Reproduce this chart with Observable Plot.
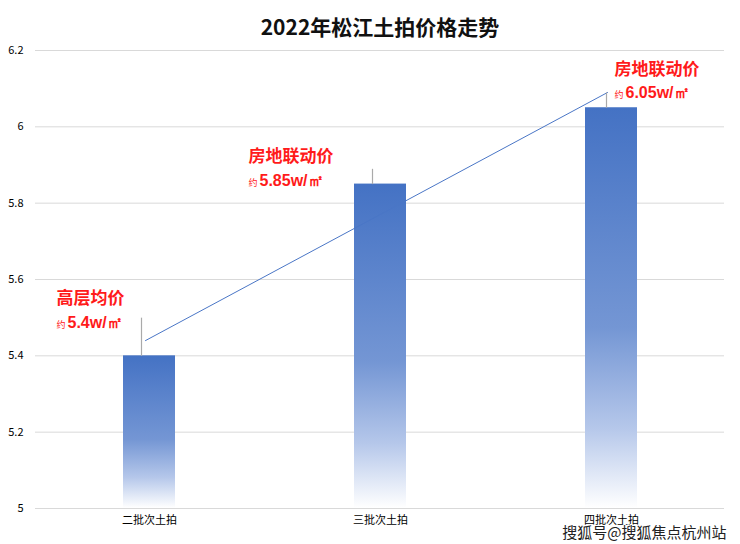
<!DOCTYPE html>
<html><head><meta charset="utf-8">
<script src="https://cdn.jsdelivr.net/npm/d3@7"></script>
<script src="https://cdn.jsdelivr.net/npm/@observablehq/plot@0.6"></script>
<style>body{margin:0;background:#fff;font-family:"Noto Sans CJK SC",sans-serif}</style>
</head><body><div id="chart"></div>
<script>
const categories = ["二批次土拍", "三批次土拍", "四批次土拍"];
const prices = [5.4, 5.85, 6.05];
const labelTitles = ["高层均价", "房地联动价", "房地联动价"];
const labelValues = ["5.4w/㎡", "5.85w/㎡", "6.05w/㎡"];
const trendStart = 5.44, trendEnd = 6.09;
const yTicks = [5, 5.2, 5.4, 5.6, 5.8, 6, 6.2];

const data = categories.map((c, i) => ({c, v: prices[i], t: labelTitles[i], lv: labelValues[i]}));
const pos = [{dx: -93, dy1: -57, dy2: -33}, {dx: -132, dy1: -28, dy2: -3}, {dx: 3, dy1: -38, dy2: -15}];
const red = "#ff1a1a";
const font = "Noto Sans CJK SC";

const marks = [
  Plot.ruleY(yTicks, {stroke: "#d9d9d9", strokeWidth: 1}),
  Plot.barY(data, {x: "c", y1: 5, y2: "v", fill: "url(#bargrad)"}),
  Plot.line([{c: categories[0], v: trendStart}, {c: categories[2], v: trendEnd}], {x: "c", y: "v", stroke: "#4a76c6", strokeWidth: 1, dx: -4}),
  Plot.text(["2022年松江土拍价格走势"], {frameAnchor: "top", dy: -30, fontSize: 21, fontWeight: "bold", fill: "#111", fontFamily: font})
];
data.forEach((d, i) => {
  const p = pos[i];
  marks.push(
    Plot.link([d], {x1: "c", x2: "c", y1: d => d.v + (i === 0 ? 0.1 : 0.04), y2: "v", stroke: "#aaa", strokeWidth: 1.2, dx: i === 2 ? -5 : -8}),
    Plot.text([d], {x: "c", y: "v", text: "t", dx: p.dx, dy: p.dy1, textAnchor: "start", fill: red, fontSize: 17, fontWeight: "bold", fontFamily: font}),
    Plot.text([d], {x: "c", y: "v", text: () => "约", dx: p.dx, dy: p.dy2 + 2, textAnchor: "start", fill: red, fontSize: 9, fontFamily: font}),
    Plot.text([d], {x: "c", y: "v", text: "lv", dx: p.dx + 11, dy: p.dy2, textAnchor: "start", fill: red, fontSize: 16, fontWeight: "bold", fontFamily: "Liberation Sans"})
  );
});
marks.push(Plot.text(["搜狐号@搜狐焦点杭州站"], {frameAnchor: "bottom-right", dy: 29, dx: 2, textAnchor: "end", fontSize: 15, fill: "#222", stroke: "white", strokeWidth: 2, fontFamily: font}));

const chart = Plot.plot({
  width: 740, height: 544,
  marginTop: 50, marginBottom: 36, marginLeft: 35, marginRight: 16,
  style: {fontFamily: font, background: "white"},
  x: {domain: categories, paddingInner: 0.776, paddingOuter: 0.375, label: null, tickSize: 0, tickPadding: 8},
  y: {domain: [5, 6.2], ticks: yTicks, tickFormat: d => String(+d.toFixed(1)), label: null, tickSize: 0, tickPadding: 12},
  marks
});
const ns = "http://www.w3.org/2000/svg";
const defs = document.createElementNS(ns, "defs");
defs.innerHTML = `<linearGradient id="bargrad" x1="0" y1="0" x2="0" y2="1">
<stop offset="0" stop-color="#4472c4"/><stop offset="0.55" stop-color="#7496d4"/><stop offset="0.8" stop-color="#b5c7ea"/><stop offset="1" stop-color="#ffffff"/></linearGradient>`;
chart.insertBefore(defs, chart.firstChild);
chart.querySelectorAll("[aria-label='y-axis tick label'] text, [aria-label='x-axis tick label'] text").forEach(t => t.style.fontSize = "11px");
document.getElementById("chart").appendChild(chart);
</script></body></html>
